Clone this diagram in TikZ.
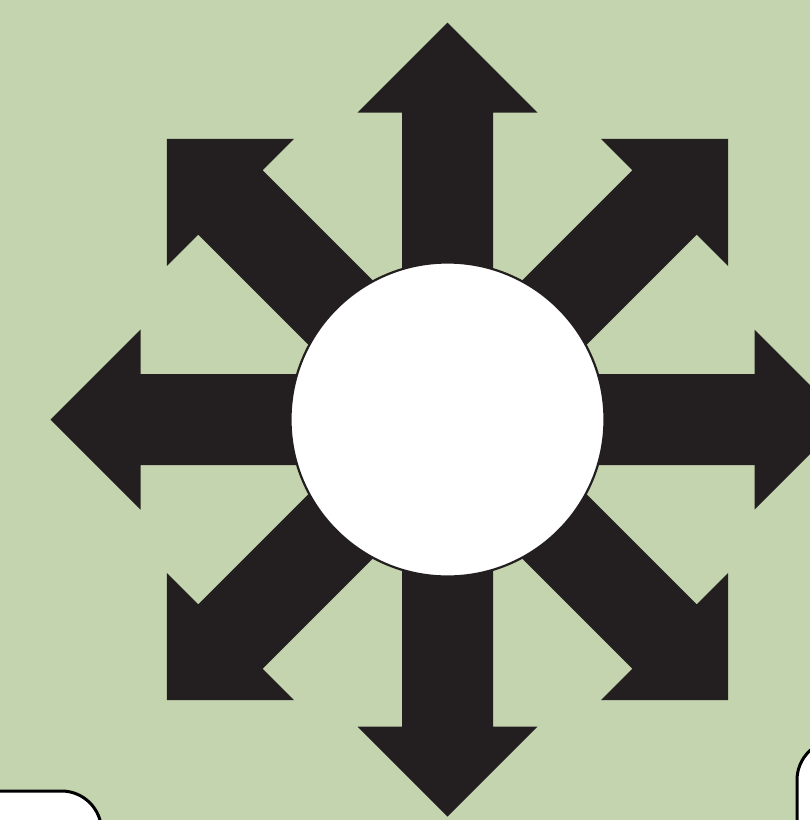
\documentclass[tikz,border=0pt]{standalone}
\definecolor{bggreen}{RGB}{196,212,175}
\definecolor{arrowblack}{RGB}{35,31,32}
\tikzset{
  ray/.style={fill=arrowblack},
  hubstyle/.style={circle, fill=white, draw=arrowblack, line width=2.2pt, minimum size=314pt, inner sep=0pt},
  cornerbox/.style={fill=white, draw=black, line width=3pt, rounded corners=40pt}
}
\begin{document}
\begin{tikzpicture}[x=1pt,y=-1pt]
\useasboundingbox (0,0) rectangle (810,820);
\fill[bggreen] (0,0) rectangle (810,820);
\begin{scope}
\clip (0,0) rectangle (810,820);
\foreach \a in {0,45,...,315}{
  \fill[ray, shift={(447.5,419.5)}, rotate=\a]
    (-45.5,0) -- (-45.5,-307) -- (-90,-307) -- (0,-397) -- (90,-307) -- (45.5,-307) -- (45.5,0) -- cycle;
}
\draw[cornerbox] (-60,791) rectangle (101.5,920);
\draw[cornerbox] (797,740) rectangle (920,920);
\end{scope}
\node[hubstyle] (hub) at (447.5,419.5) {};
\end{tikzpicture}
\end{document}
